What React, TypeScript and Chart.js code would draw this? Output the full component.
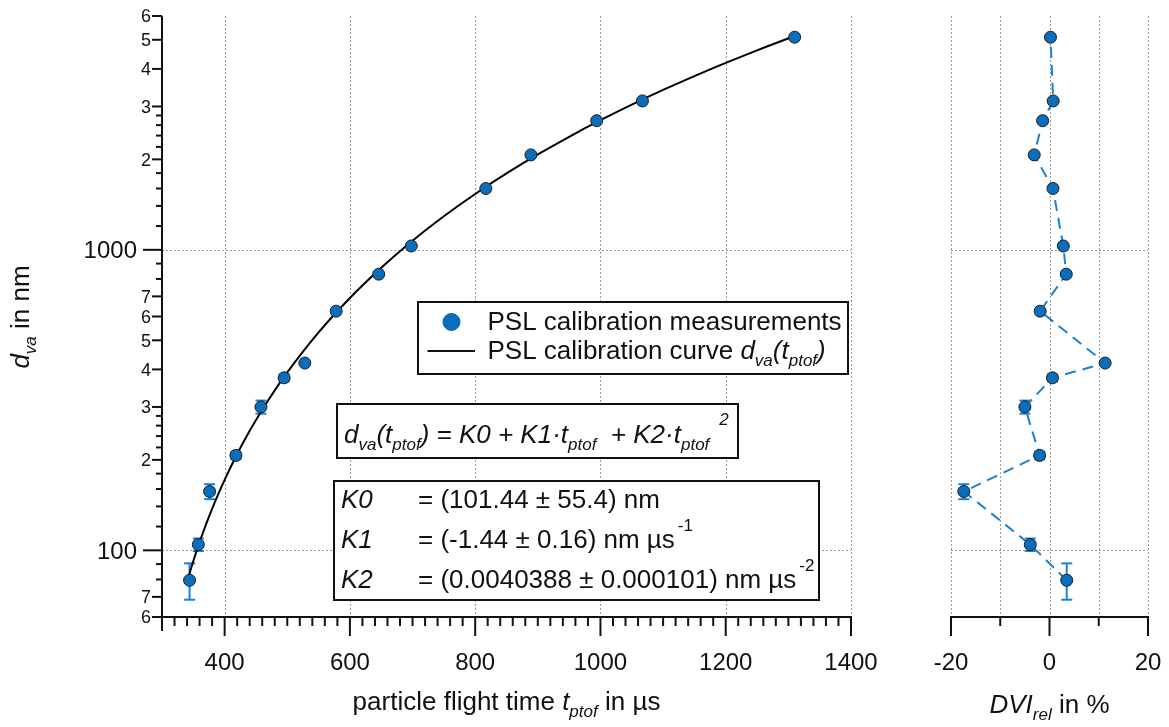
import React, { useEffect, useRef } from 'react';
import { Chart, registerables } from 'chart.js';
Chart.register(...registerables);

// ---------- data ----------
const tFlight = [344, 358, 376, 418, 458, 495, 528, 578, 646, 698, 817, 889, 994, 1067, 1310];
const dVa = [79.5, 104.5, 157, 207, 300, 375, 420, 625, 830, 1030, 1600, 2070, 2690, 3130, 5100];
const dErr = [11, 5, 9, 6, 15, 10, 0, 0, 0, 0, 0, 0, 0, 0, 0];
const dviRel = [3.5, -3.9, -17.4, -2.0, -5.0, 0.6, 11.3, -1.9, 3.4, 2.8, 0.7, -3.1, -1.4, 0.75, 0.2];

// calibration curve d_va(t_ptof)
const curveT = [341, 350, 360, 370, 380, 390, 400, 420, 440, 460, 480, 500, 550, 600, 650, 700, 750, 800, 850, 900, 950, 1000, 1050, 1100, 1150, 1200, 1250, 1310];
const curveD = [80.0, 92.2, 106.5, 121.6, 137.4, 154.1, 171.6, 209.1, 249.8, 293.7, 340.8, 391.1, 531.2, 691.4, 871.8, 1072.5, 1293.3, 1534.3, 1795.5, 2076.9, 2378.5, 2700.2, 3042.2, 3404.4, 3786.8, 4189.3, 4612.1, 5145.9];

// ---------- axes / ticks ----------
const X_MIN = 300, X_MAX = 1400;
const Y_MIN = 60, Y_MAX = 6000;
const DVI_MIN = -20, DVI_MAX = 20;

const yMajorVals = [100, 1000];
const yMajorLabels = ['100', '1000'];
const yMinorVals = [60, 70, 200, 300, 400, 500, 600, 700, 2000, 3000, 4000, 5000, 6000];
const yMinorLabels = ['6', '7', '2', '3', '4', '5', '6', '7', '2', '3', '4', '5', '6'];
const ySubVals = [80, 90, 120, 140, 160, 180, 220, 240, 260, 280, 800, 900, 1200, 1400, 1600, 1800, 2200, 2400, 2600, 2800];
const xMajorVals = [400, 600, 800, 1000, 1200, 1400];
const xMajorLabels = ['400', '600', '800', '1000', '1200', '1400'];
const xMinorStep = 20;
const dviMajorVals = [-20, 0, 20];
const dviMajorLabels = ['-20', '0', '20'];
const dviMinorVals = [-10, 10];
const dviGridVals = [-20, -10, 0, 10, 20];

const FONT = '"Liberation Sans", Arial, Helvetica, sans-serif';
const MARKER = '#0a6ebd';
const MARKER_EDGE = '#1c1c1c';
const ERR = '#1f80d0';
const GRID = '#9a9a9a';
const AXIS = '#111111';

type Seg = { t: string; it?: boolean; sz?: number; dy?: number; gap?: number };

function fontFor(s: Seg, base: number) {
  return `${s.it ? 'italic ' : ''}${s.sz ?? base}px ${FONT}`;
}

function drawRich(ctx: CanvasRenderingContext2D, segs: Seg[], x: number, y: number, align: 'left' | 'center', base: number) {
  let total = 0;
  for (const s of segs) {
    ctx.font = fontFor(s, base);
    total += ctx.measureText(s.t).width + (s.gap ?? 0);
  }
  let cx = align === 'center' ? x - total / 2 : x;
  ctx.textAlign = 'left';
  ctx.textBaseline = 'alphabetic';
  for (const s of segs) {
    ctx.font = fontFor(s, base);
    ctx.fillText(s.t, cx, y + (s.dy ?? 0));
    cx += ctx.measureText(s.t).width + (s.gap ?? 0);
  }
}

function seg(ctx: CanvasRenderingContext2D, x1: number, y1: number, x2: number, y2: number) {
  ctx.beginPath();
  ctx.moveTo(x1, y1);
  ctx.lineTo(x2, y2);
  ctx.stroke();
}

function drawErrorBars(ctx: CanvasRenderingContext2D, xs: number[], xScale: any, yScale: any) {
  ctx.save();
  ctx.strokeStyle = ERR;
  ctx.lineWidth = 2;
  for (let i = 0; i < xs.length; i++) {
    if (!dErr[i]) continue;
    const px = xScale.getPixelForValue(xs[i]);
    const top = yScale.getPixelForValue(dVa[i] + dErr[i]);
    const bot = yScale.getPixelForValue(dVa[i] - dErr[i]);
    seg(ctx, px, top, px, bot);
    seg(ctx, px - 5.5, top, px + 5.5, top);
    seg(ctx, px - 5.5, bot, px + 5.5, bot);
  }
  ctx.restore();
}

function drawHGrid(ctx: CanvasRenderingContext2D, a: any, yScale: any) {
  for (const v of yMajorVals) {
    const py = Math.round(yScale.getPixelForValue(v)) + 0.5;
    seg(ctx, a.left, py, a.right, py);
  }
}

const leftDeco = {
  id: 'leftDeco',
  beforeDatasetsDraw(chart: any) {
    const { ctx, chartArea: a, scales } = chart;
    const x = scales.x, y = scales.y;
    ctx.save();
    ctx.strokeStyle = GRID;
    ctx.lineWidth = 1;
    ctx.setLineDash([2, 2]);
    for (const v of xMajorVals) {
      const px = Math.round(x.getPixelForValue(v)) + 0.5;
      seg(ctx, px, a.top, px, a.bottom);
    }
    drawHGrid(ctx, a, y);
    ctx.restore();
    drawErrorBars(ctx, tFlight, x, y);
  },
  afterDatasetsDraw(chart: any) {
    const { ctx, chartArea: a, scales } = chart;
    const x = scales.x, y = scales.y;
    ctx.save();
    ctx.strokeStyle = AXIS;
    ctx.fillStyle = AXIS;
    ctx.lineWidth = 2;
    // axis lines
    seg(ctx, a.left, a.top, a.left, a.bottom + 1);
    seg(ctx, a.left - 1, a.bottom, a.right + 1, a.bottom);
    // y ticks
    for (let i = 0; i < yMajorVals.length; i++) {
      const py = y.getPixelForValue(yMajorVals[i]);
      seg(ctx, a.left - 19, py, a.left, py);
      ctx.font = `24px ${FONT}`;
      ctx.textAlign = 'right';
      ctx.textBaseline = 'alphabetic';
      ctx.fillText(yMajorLabels[i], a.left - 25, py + 8.6);
    }
    for (let i = 0; i < yMinorVals.length; i++) {
      const py = y.getPixelForValue(yMinorVals[i]);
      seg(ctx, a.left - 10, py, a.left, py);
      ctx.font = `18px ${FONT}`;
      ctx.textAlign = 'right';
      ctx.textBaseline = 'alphabetic';
      ctx.fillText(yMinorLabels[i], a.left - 11, py + 6.4);
    }
    for (const v of ySubVals) {
      const py = y.getPixelForValue(v);
      seg(ctx, a.left - 6, py, a.left, py);
    }
    // x ticks
    for (let v = X_MIN; v <= X_MAX; v += xMinorStep) {
      if (xMajorVals.includes(v)) continue;
      const px = x.getPixelForValue(v);
      seg(ctx, px, a.bottom, px, a.bottom + (v === X_MIN ? 14 : 9));
    }
    for (let i = 0; i < xMajorVals.length; i++) {
      const px = x.getPixelForValue(xMajorVals[i]);
      seg(ctx, px, a.bottom, px, a.bottom + 19);
      ctx.font = `24px ${FONT}`;
      ctx.textAlign = 'center';
      ctx.textBaseline = 'alphabetic';
      ctx.fillText(xMajorLabels[i], px, 670);
    }
    // axis titles
    drawRich(ctx, [
      { t: 'particle flight time ' },
      { t: 't', it: true },
      { t: 'ptof', it: true, sz: 17, dy: 7 },
      { t: ' in µs' },
    ], (a.left + a.right) / 2, 710, 'center', 26);
    ctx.save();
    ctx.translate(29, 317);
    ctx.rotate(-Math.PI / 2);
    drawRich(ctx, [
      { t: 'd', it: true },
      { t: 'va', it: true, sz: 17, dy: 7 },
      { t: ' in nm' },
    ], 0, 0, 'center', 26);
    ctx.restore();

    // legend box
    ctx.fillStyle = '#ffffff';
    ctx.fillRect(418, 302, 430, 72);
    ctx.strokeRect(418, 302, 430, 72);
    ctx.beginPath();
    ctx.arc(451.5, 322, 8.5, 0, Math.PI * 2);
    ctx.fillStyle = MARKER;
    ctx.fill();
    ctx.lineWidth = 1;
    ctx.strokeStyle = '#0a5fa5';
    ctx.stroke();
    ctx.lineWidth = 2;
    ctx.strokeStyle = AXIS;
    seg(ctx, 427.5, 351, 475, 351);
    ctx.fillStyle = AXIS;
    drawRich(ctx, [{ t: 'PSL calibration measurements' }], 487.5, 330, 'left', 26);
    drawRich(ctx, [
      { t: 'PSL calibration curve ' },
      { t: 'd', it: true },
      { t: 'va', it: true, sz: 17, dy: 7 },
      { t: '(t', it: true },
      { t: 'ptof', it: true, sz: 17, dy: 7 },
      { t: ')', it: true },
    ], 487.5, 359, 'left', 26);

    // equation box
    ctx.fillStyle = '#ffffff';
    ctx.fillRect(337, 404, 401, 54);
    ctx.strokeRect(337, 404, 401, 54);
    ctx.fillStyle = AXIS;
    drawRich(ctx, [
      { t: 'd', it: true },
      { t: 'va', it: true, sz: 17, dy: 7 },
      { t: '(t', it: true },
      { t: 'ptof', it: true, sz: 17, dy: 7 },
      { t: ') = K0 + K1·t', it: true },
      { t: 'ptof', it: true, sz: 17, dy: 7 },
      { t: '  + K2·t', it: true },
      { t: 'ptof', it: true, sz: 17, dy: 7, gap: 10 },
      { t: '2', it: true, sz: 17, dy: -18 },
    ], 344, 443, 'left', 26);

    // parameter box
    ctx.fillStyle = '#ffffff';
    ctx.fillRect(334, 481, 485, 119);
    ctx.strokeRect(334, 481, 485, 119);
    ctx.fillStyle = AXIS;
    drawRich(ctx, [{ t: 'K0', it: true }], 341, 508, 'left', 26);
    drawRich(ctx, [{ t: '= (101.44 ± 55.4) nm' }], 418, 508, 'left', 26);
    drawRich(ctx, [{ t: 'K1', it: true }], 341, 548, 'left', 26);
    drawRich(ctx, [{ t: '= (-1.44 ± 0.16) nm µs', gap: 3 }, { t: '-1', sz: 17, dy: -17 }], 418, 548, 'left', 26);
    drawRich(ctx, [{ t: 'K2', it: true }], 341, 588, 'left', 26);
    drawRich(ctx, [{ t: '= (0.0040388 ± 0.000101) nm µs', gap: 3 }, { t: '-2', sz: 17, dy: -17 }], 418, 588, 'left', 26);
    ctx.restore();
  },
};

const rightDeco = {
  id: 'rightDeco',
  beforeDatasetsDraw(chart: any) {
    const { ctx, chartArea: a, scales } = chart;
    const x = scales.x, y = scales.y;
    ctx.save();
    ctx.strokeStyle = GRID;
    ctx.lineWidth = 1;
    ctx.setLineDash([2, 2]);
    for (const v of dviGridVals) {
      const px = Math.round(x.getPixelForValue(v)) + 0.5;
      seg(ctx, px, a.top, px, a.bottom);
    }
    drawHGrid(ctx, a, y);
    ctx.restore();
    drawErrorBars(ctx, dviRel, x, y);
  },
  afterDatasetsDraw(chart: any) {
    const { ctx, chartArea: a, scales } = chart;
    const x = scales.x;
    ctx.save();
    ctx.strokeStyle = AXIS;
    ctx.fillStyle = AXIS;
    ctx.lineWidth = 2;
    seg(ctx, a.left - 1, a.bottom, a.right + 1, a.bottom);
    for (const v of dviMinorVals) {
      const px = x.getPixelForValue(v);
      seg(ctx, px, a.bottom, px, a.bottom + 9);
    }
    for (let i = 0; i < dviMajorVals.length; i++) {
      const px = x.getPixelForValue(dviMajorVals[i]);
      seg(ctx, px, a.bottom, px, a.bottom + 19);
      ctx.font = `24px ${FONT}`;
      ctx.textAlign = 'center';
      ctx.textBaseline = 'alphabetic';
      ctx.fillText(dviMajorLabels[i], px, 670);
    }
    drawRich(ctx, [
      { t: 'DVI', it: true },
      { t: 'rel', it: true, sz: 17, dy: 7 },
      { t: ' in %' },
    ], (a.left + a.right) / 2, 713, 'center', 26);
    ctx.restore();
  },
};

const pointStyle = {
  pointRadius: 6,
  pointHoverRadius: 6,
  pointBackgroundColor: MARKER,
  pointBorderColor: MARKER_EDGE,
  pointBorderWidth: 1,
};

export default function App() {
  const leftRef = useRef<HTMLCanvasElement>(null);
  const rightRef = useRef<HTMLCanvasElement>(null);

  useEffect(() => {
    const measPts = tFlight.map((t, i) => ({ x: t, y: dVa[i] }));
    const curvePts = curveT.map((t, i) => ({ x: t, y: curveD[i] }));
    const dviPts = dviRel.map((v, i) => ({ x: v, y: dVa[i] }));

    const left = new Chart(leftRef.current as HTMLCanvasElement, {
      type: 'scatter',
      data: {
        datasets: [
          { type: 'scatter', data: measPts, ...pointStyle } as any,
          {
            type: 'line', data: curvePts, borderColor: '#000000', borderWidth: 2,
            pointRadius: 0, cubicInterpolationMode: 'monotone', fill: false,
          } as any,
        ],
      },
      options: {
        responsive: false,
        animation: false,
        devicePixelRatio: 1,
        events: [],
        layout: { padding: { left: 162, right: 29, top: 16, bottom: 110 } },
        scales: {
          x: { type: 'linear', min: X_MIN, max: X_MAX, display: false },
          y: { type: 'logarithmic', min: Y_MIN, max: Y_MAX, display: false },
        },
        plugins: { legend: { display: false }, tooltip: { enabled: false } },
      } as any,
      plugins: [leftDeco],
    });

    const right = new Chart(rightRef.current as HTMLCanvasElement, {
      type: 'scatter',
      data: {
        datasets: [
          { type: 'scatter', data: dviPts, ...pointStyle } as any,
          {
            type: 'line', data: dviPts, borderColor: ERR, borderWidth: 2,
            borderDash: [11, 7], pointRadius: 0, tension: 0, fill: false,
          } as any,
        ],
      },
      options: {
        responsive: false,
        animation: false,
        devicePixelRatio: 1,
        events: [],
        layout: { padding: { left: 71, right: 21, top: 16, bottom: 110 } },
        scales: {
          x: { type: 'linear', min: DVI_MIN, max: DVI_MAX, display: false },
          y: { type: 'logarithmic', min: Y_MIN, max: Y_MAX, display: false },
        },
        plugins: { legend: { display: false }, tooltip: { enabled: false } },
      } as any,
      plugins: [rightDeco],
    });

    return () => {
      left.destroy();
      right.destroy();
    };
  }, []);

  return (
    <div style={{ position: 'absolute', left: 0, top: 0, width: 1169, height: 727, background: '#ffffff', overflow: 'hidden' }}>
      <canvas ref={leftRef} width={880} height={727} style={{ position: 'absolute', left: 0, top: 0, width: 880, height: 727 }} />
      <canvas ref={rightRef} width={289} height={727} style={{ position: 'absolute', left: 880, top: 0, width: 289, height: 727 }} />
    </div>
  );
}
